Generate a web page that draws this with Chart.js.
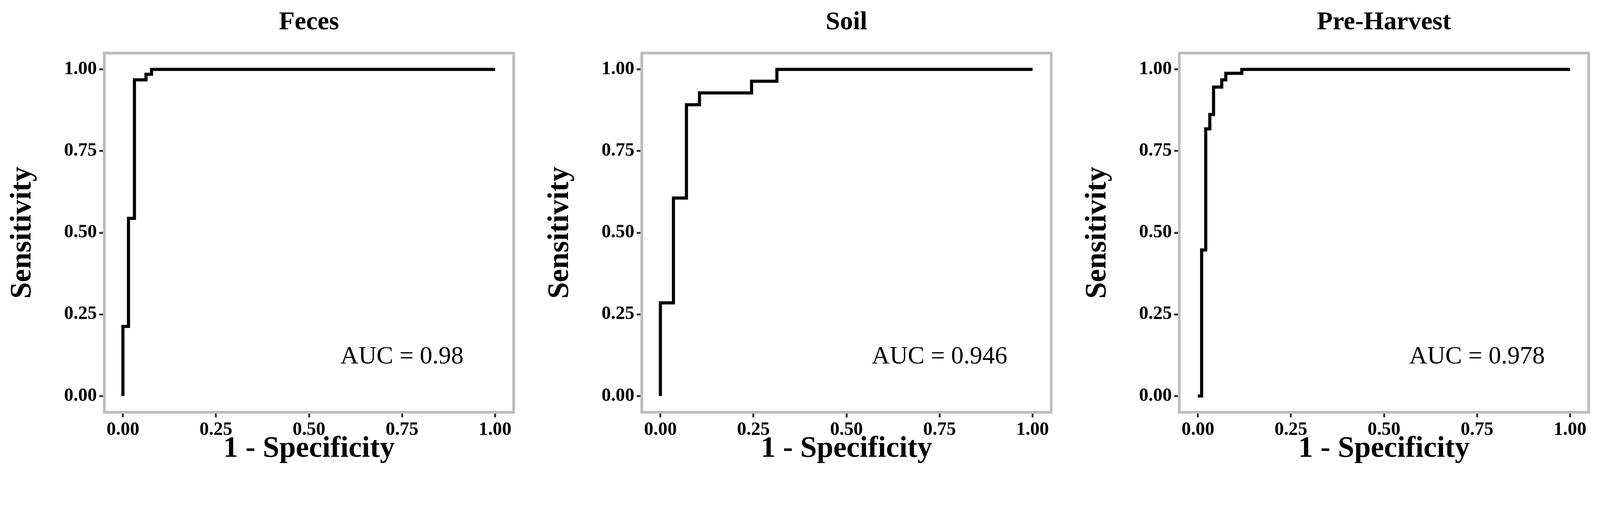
<!DOCTYPE html>
<html>
<head>
<meta charset="utf-8">
<script src="https://cdn.jsdelivr.net/npm/chart.js@4"></script>
<style>
  body { margin: 0; background: #fff; width: 4275px; height: 1337px; position: relative; overflow: hidden; }
  .panel { position: absolute; top: 0; width: 1360px; height: 1337px; }
</style>
</head>
<body>
<div class="panel" style="left:0px"><canvas id="c0"></canvas></div>
<div class="panel" style="left:1376px"><canvas id="c1"></canvas></div>
<div class="panel" style="left:2752px"><canvas id="c2"></canvas></div>
<script>
// ROC curve points (1 - specificity, sensitivity)
const panelTitles = ['Feces', 'Soil', 'Pre-Harvest'];
const aucLabels = ['AUC = 0.98', 'AUC = 0.946', 'AUC = 0.978'];

const fecesFpr = [0, 0, 0.015, 0.031, 0.062, 0.077, 1];
const fecesTpr = [0, 0.213, 0.544, 0.968, 0.985, 1, 1];

const soilFpr = [0, 0, 0.035, 0.07, 0.105, 0.245, 0.313, 1];
const soilTpr = [0, 0.285, 0.606, 0.892, 0.928, 0.964, 1, 1];

const preFpr = [0, 0.010, 0.021, 0.032, 0.042, 0.064, 0.075, 0.118, 1];
const preTpr = [0, 0.447, 0.818, 0.862, 0.946, 0.968, 0.988, 1, 1];

const tickValues = [0, 0.25, 0.5, 0.75, 1];

const series = [[fecesFpr, fecesTpr], [soilFpr, soilTpr], [preFpr, preTpr]];

const serif = "'Liberation Serif', 'DejaVu Serif', serif";

// grey frame, panel title, axis titles and AUC annotation
const decor = {
  id: 'decor',
  afterDraw(chart) {
    const { ctx, chartArea: a, scales } = chart;
    const i = chart.options.plugins.decor.index;
    const cx = (a.left + a.right) / 2;
    ctx.save();
    ctx.strokeStyle = '#bdbdbd';
    ctx.lineWidth = 7;
    ctx.strokeRect(a.left, a.top, a.right - a.left, a.bottom - a.top);
    ctx.fillStyle = '#000';
    ctx.textAlign = 'center';
    ctx.textBaseline = 'middle';
    ctx.font = 'bold 66px ' + serif;
    ctx.fillText(panelTitles[i], cx, 58);
    ctx.font = 'bold 76px ' + serif;
    ctx.fillText('1 - Specificity', cx, 1150);
    ctx.save();
    ctx.translate(58, (a.top + a.bottom) / 2);
    ctx.rotate(-Math.PI / 2);
    ctx.fillText('Sensitivity', 0, 0);
    ctx.restore();
    ctx.font = '64px ' + serif;
    ctx.fillText(aucLabels[i], scales.x.getPixelForValue(0.75), scales.y.getPixelForValue(0.12));
    ctx.restore();
  }
};

series.forEach(([fpr, tpr], i) => {
  new Chart(document.getElementById('c' + i), {
    type: 'line',
    data: {
      datasets: [{
        data: fpr.map((x, k) => ({ x, y: tpr[k] })),
        stepped: 'before',
        borderColor: '#000',
        borderWidth: 8,
        pointRadius: 0,
        fill: false
      }]
    },
    options: {
      responsive: true,
      maintainAspectRatio: false,
      animation: false,
      layout: { padding: { top: 136, right: 45, left: 0, bottom: 0 } },
      plugins: { legend: { display: false }, tooltip: { enabled: false }, decor: { index: i } },
      scales: {
        x: {
          type: 'linear', min: -0.05, max: 1.05,
          afterBuildTicks: s => { s.ticks = tickValues.map(v => ({ value: v })); },
          afterFit: s => { s.height = 281; },
          grid: { drawOnChartArea: false, tickLength: 13, tickWidth: 5, tickColor: '#333' },
          border: { display: false },
          ticks: { color: '#000', padding: 4, maxRotation: 0, font: { family: serif, size: 48, weight: 'bold' },
                   callback: v => v.toFixed(2) },
          title: { display: false }
        },
        y: {
          type: 'linear', min: -0.05, max: 1.05,
          afterBuildTicks: s => { s.ticks = tickValues.map(v => ({ value: v })); },
          afterFit: s => { s.width = 267; },
          grid: { drawOnChartArea: false, tickLength: 13, tickWidth: 5, tickColor: '#333' },
          border: { display: false },
          ticks: { color: '#000', padding: 6, font: { family: serif, size: 48, weight: 'bold' },
                   callback: v => v.toFixed(2) },
          title: { display: false }
        }
      }
    },
    plugins: [decor]
  });
});
</script>
</body>
</html>
